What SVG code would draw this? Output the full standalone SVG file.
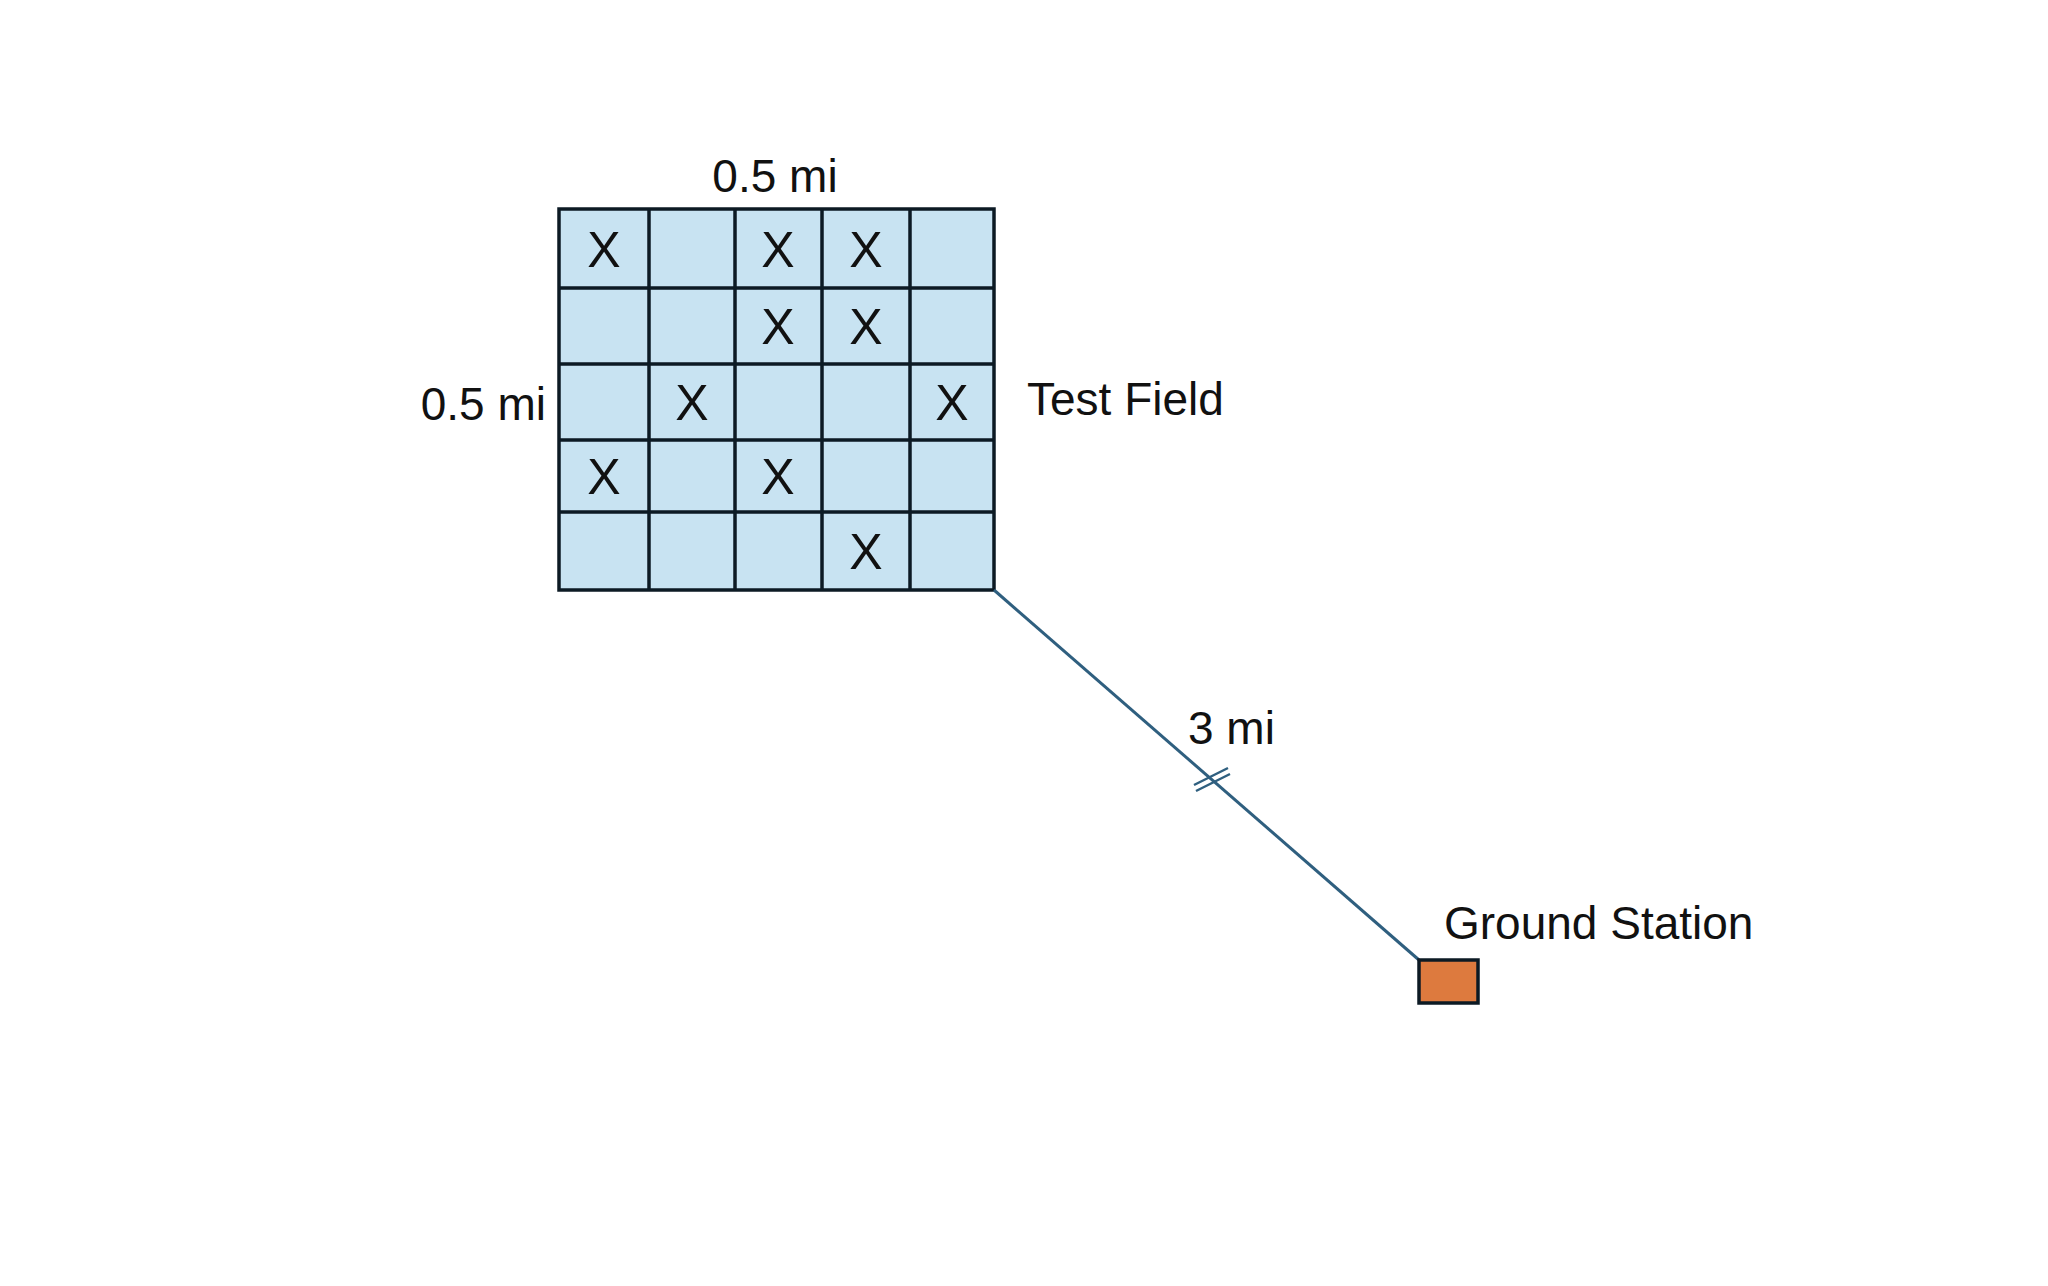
<svg xmlns="http://www.w3.org/2000/svg" width="2048" height="1286" viewBox="0 0 2048 1286">
<style>
text{font-family:"Liberation Sans",Arial,sans-serif;fill:#111;font-size:46px}
.x{font-size:50px;text-anchor:middle}
.cell{fill:#C8E3F2;stroke:#0c1a24;stroke-width:3.5}
</style>
<rect width="2048" height="1286" fill="#fff"/>
<g id="test-field">
<rect class="cell" x="559" y="209" width="435" height="381"/>
<path d="M649 209V590M735 209V590M822 209V590M910 209V590M559 288H994M559 364H994M559 440H994M559 512H994" stroke="#0c1a24" stroke-width="3.5" fill="none"/>
<text class="x" x="604" y="267">X</text><text class="x" x="778" y="267">X</text><text class="x" x="866" y="267">X</text>
<text class="x" x="778" y="344">X</text><text class="x" x="866" y="344">X</text>
<text class="x" x="692" y="420">X</text><text class="x" x="952" y="420">X</text>
<text class="x" x="604" y="494">X</text><text class="x" x="778" y="494">X</text>
<text class="x" x="866" y="569">X</text>
<text x="775" y="192" text-anchor="middle">0.5 mi</text>
<text x="546" y="420" text-anchor="end">0.5 mi</text>
<text x="1027" y="415">Test Field</text>
</g>
<g id="connectors">
<line x1="994" y1="590" x2="1419" y2="960" stroke="#2f5f7f" stroke-width="3"/>
<path d="M1194 785L1228 768M1196 791L1230 774" stroke="#2f5f7f" stroke-width="2.5"/>
<text x="1188" y="744">3 mi</text>
</g>
<g id="ground-station">
<rect x="1419" y="960" width="59" height="43" fill="#DD7A3E" stroke="#0c1a24" stroke-width="3.5"/>
<text x="1444" y="939">Ground Station</text>
</g>
</svg>
